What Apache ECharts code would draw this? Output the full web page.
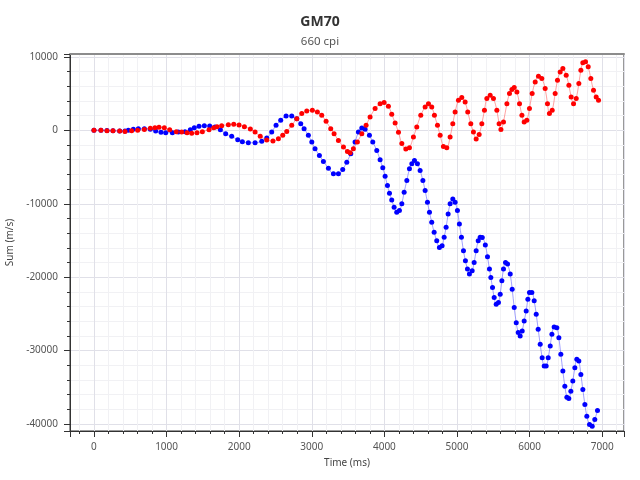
<!DOCTYPE html>
<html>
<head>
<meta charset="utf-8">
<title>GM70</title>
<script src="https://cdn.jsdelivr.net/npm/echarts@6/dist/echarts.min.js"></script>
<style>
    html, body { margin: 0; padding: 0; background: #fff; }
    #chart { width: 640px; height: 480px; }
</style>
</head>
<body>
<div id="chart"></div>
<script>
// 红色曲线 (时间 ms, 累计速度 m/s)
var redTime = [0, 96, 179, 262, 354, 427, 519, 602, 694, 776, 840, 896, 969, 1043, 1134, 1208, 1282, 1346, 1419, 1493,
    1585, 1649, 1695, 1759, 1851, 1925, 1998, 2072, 2154, 2219, 2290, 2380, 2465, 2540, 2600, 2655, 2724, 2793, 2862, 2931,
    3008, 3077, 3137, 3197, 3261, 3307, 3367, 3436, 3491, 3528, 3573, 3628, 3689, 3748, 3803, 3872, 3941, 3996, 4055, 4101,
    4148, 4194, 4240, 4295, 4345, 4400, 4446, 4501, 4561, 4607, 4652, 4689, 4731, 4768, 4813, 4859, 4905, 4942, 4974, 5020,
    5066, 5112, 5148, 5190, 5226, 5264, 5305, 5342, 5378, 5411, 5457, 5502, 5549, 5580, 5605, 5640, 5687, 5723, 5756, 5788,
    5825, 5861, 5894, 5925, 5962, 5998, 6035, 6077, 6122, 6168, 6214, 6246, 6273, 6311, 6352, 6384, 6421, 6458, 6504, 6541,
    6572, 6605, 6642, 6678, 6706, 6733, 6770, 6807, 6843, 6880, 6917, 6949];
var redSum = [0, 0, -40, -60, -100, -150, -60, 0, 130, 270, 360, 410, 360, 90, -180, -230, -320, -410, -320, -180,
    90, 360, 500, 640, 770, 820, 730, 500, 180, -230, -800, -1300, -1460, -1140, -680, -140, 680, 1590, 2280, 2640,
    2730, 2500, 2050, 1230, 230, -450, -1370, -2280, -2870, -3050, -2500, -1590, -450, 680, 1820, 2960, 3640, 3780, 3300, 2200,
    1000, -250, -1800, -2550, -2370, -910, 450, 2050, 3190, 3640, 3190, 2050, 680, -680, -2190, -2370, -910, 910, 2500, 4100,
    4460, 3870, 2500, 910, -230, -1190, -550, 910, 2730, 4330, 4780, 4330, 2730, 900, 100, 1140, 3640, 5010, 5550, 5830,
    5230, 3640, 2050, 1140, 1370, 2960, 5010, 6600, 7380, 7060, 5690, 3640, 2280, 2730, 5010, 6830, 7960, 8430, 7510, 6150,
    4550, 3640, 4330, 6380, 8200, 9200, 9330, 8650, 7060, 5460, 4550, 4100];

// 蓝色曲线
var blueTime = [0, 96, 179, 262, 354, 427, 473, 542, 611, 694, 776, 850, 923, 988, 1080, 1162, 1254, 1327, 1382, 1447,
    1520, 1594, 1667, 1741, 1814, 1897, 1980, 2044, 2126, 2219, 2311, 2380, 2448, 2508, 2572, 2646, 2724, 2793, 2848, 2894,
    2953, 3000, 3045, 3105, 3160, 3229, 3298, 3367, 3426, 3482, 3537, 3596, 3642, 3689, 3734, 3794, 3840, 3895, 3941, 3978,
    4010, 4042, 4070, 4101, 4134, 4170, 4207, 4240, 4272, 4309, 4345, 4378, 4414, 4455, 4492, 4530, 4561, 4593, 4621, 4652,
    4685, 4721, 4758, 4795, 4823, 4850, 4878, 4905, 4942, 4974, 5006, 5033, 5061, 5089, 5116, 5144, 5171, 5209, 5236, 5264,
    5292, 5319, 5348, 5390, 5420, 5447, 5466, 5489, 5512, 5540, 5571, 5595, 5618, 5640, 5668, 5696, 5733, 5760, 5788, 5816,
    5843, 5870, 5898, 5925, 5953, 5976, 5998, 6031, 6063, 6091, 6118, 6146, 6173, 6201, 6228, 6256, 6284, 6307, 6338, 6375,
    6403, 6430, 6458, 6485, 6513, 6540, 6568, 6595, 6623, 6650, 6678, 6706, 6733, 6761, 6788, 6825, 6862, 6898, 6935];
var blueSum = [0, 0, -20, -40, -80, -95, 0, 140, 230, 230, 140, -95, -270, -320, -320, -230, -180, 90, 360, 550,
    640, 590, 450, 90, -450, -820, -1270, -1550, -1690, -1690, -1480, -1050, -230, 680, 1370, 1960, 1960, 1590, 910, 230,
    -680, -1590, -2500, -3420, -4230, -5150, -5920, -5920, -5330, -4330, -3180, -1590, -230, 320, 140, -680, -1590, -2730, -4000, -5100,
    -6250, -7510, -8560, -9470, -10470, -11160, -10930, -10010, -8430, -6830, -5230, -4550, -4100, -4550, -5460, -6830, -8200, -9790, -11160, -12530,
    -13890, -15030, -15940, -15710, -14570, -13210, -11390, -10010, -9340, -9790, -10930, -12750, -14570, -16390, -17760, -18900, -19580, -19130, -17990, -16390,
    -15030, -14570, -14600, -15600, -17200, -18900, -20040, -21410, -22770, -23680, -23450, -22310, -20490, -18900, -17990, -18210, -19580, -21630, -24140, -26190,
    -27550, -28010, -27320, -25960, -24590, -22990, -22090, -22090, -23220, -25040, -27090, -29140, -30970, -32100, -32100, -30970, -29370, -27780, -26780, -26870,
    -28240, -30510, -32790, -34840, -36340, -36520, -35520, -34150, -32330, -31190, -31420, -33240, -35290, -37340, -38930, -40070, -40300, -39390, -38160];

var font = 'Noto Sans';

// 把两个数组合成 [x, y] 点
function pairs(xs, ys) {
    var res = [];
    for (var i = 0; i < xs.length; i++) {
        res.push([xs[i], ys[i]]);
    }
    return res;
}

// 刻度标签不要千位逗号
function plainNumber(v) {
    return String(v);
}

function lineSeries(name, xs, ys, dot, line) {
    return {
        name: name,
        type: 'line',
        data: pairs(xs, ys),
        smooth: 0.35,
        symbol: 'circle',
        symbolSize: 5,
        showAllSymbol: true,
        itemStyle: { color: dot },
        lineStyle: { color: line, width: 1 },
        emphasis: { disabled: true }
    };
}

var myChart = echarts.init(document.getElementById('chart'));

var option = {
    animation: false,
    backgroundColor: '#fff',
    title: {
        text: 'GM70',
        subtext: '660 cpi',
        left: 'center',
        top: 8,
        itemGap: 4,
        textStyle: { fontFamily: font, fontSize: 14, fontWeight: 'bold', color: '#333', lineHeight: 18 },
        subtextStyle: { fontFamily: font, fontSize: 11.5, color: '#555', lineHeight: 14 }
    },
    grid: {
        left: 70, right: 16, top: 54, bottom: 49,
        show: true,
        borderColor: '#333',
        borderWidth: 1,
        outerBoundsMode: 'none'
    },
    xAxis: [{
        type: 'value',
        position: 'bottom',
        min: -330,
        max: 7300,
        splitNumber: 7,
        name: 'Time (ms)',
        nameLocation: 'middle',
        nameGap: 27,
        nameTextStyle: { fontFamily: font, fontSize: 10, color: '#444' },
        axisLine: { show: true, onZero: false, lineStyle: { color: '#333' } },
        axisTick: { show: true, length: 6, lineStyle: { color: '#333' } },
        minorTick: { show: true, splitNumber: 5, length: 3, lineStyle: { color: '#333' } },
        axisLabel: { showMinLabel: false, showMaxLabel: false, margin: 11, fontFamily: font, fontSize: 10, color: '#555', formatter: plainNumber },
        splitLine: { show: true, lineStyle: { color: '#e0e0e8' } },
        minorSplitLine: { show: true, lineStyle: { color: '#f1f1f4' } }
    }, {
        type: 'value',
        position: 'top',
        min: -330,
        max: 7300,
        axisLine: { show: true, onZero: false, lineStyle: { color: '#8c8c8c', width: 2 } },
        axisTick: { show: false },
        axisLabel: { show: false },
        splitLine: { show: false }
    }],
    yAxis: {
        type: 'value',
        min: -40950,
        max: 10400,
        splitNumber: 5,
        name: 'Sum (m/s)',
        nameLocation: 'middle',
        nameGap: 43,
        nameTextStyle: { fontFamily: font, fontSize: 10, color: '#444' },
        axisLine: { show: true, onZero: false, lineStyle: { color: '#333' } },
        axisTick: { show: true, length: 6, lineStyle: { color: '#333' } },
        minorTick: { show: true, splitNumber: 5, length: 3, lineStyle: { color: '#333' } },
        axisLabel: { showMinLabel: false, showMaxLabel: false, margin: 12, fontFamily: font, fontSize: 10, color: '#555', formatter: plainNumber },
        splitLine: { show: true, lineStyle: { color: '#e0e0e8' } },
        minorSplitLine: { show: true, lineStyle: { color: '#f1f1f4' } }
    },
    series: [
        lineSeries('blue', blueTime, blueSum, '#0000ff', 'rgba(70,70,255,0.5)'),
        lineSeries('red', redTime, redSum, '#ff0000', 'rgba(255,70,70,0.5)')
    ]
};

myChart.setOption(option);
</script>
</body>
</html>
